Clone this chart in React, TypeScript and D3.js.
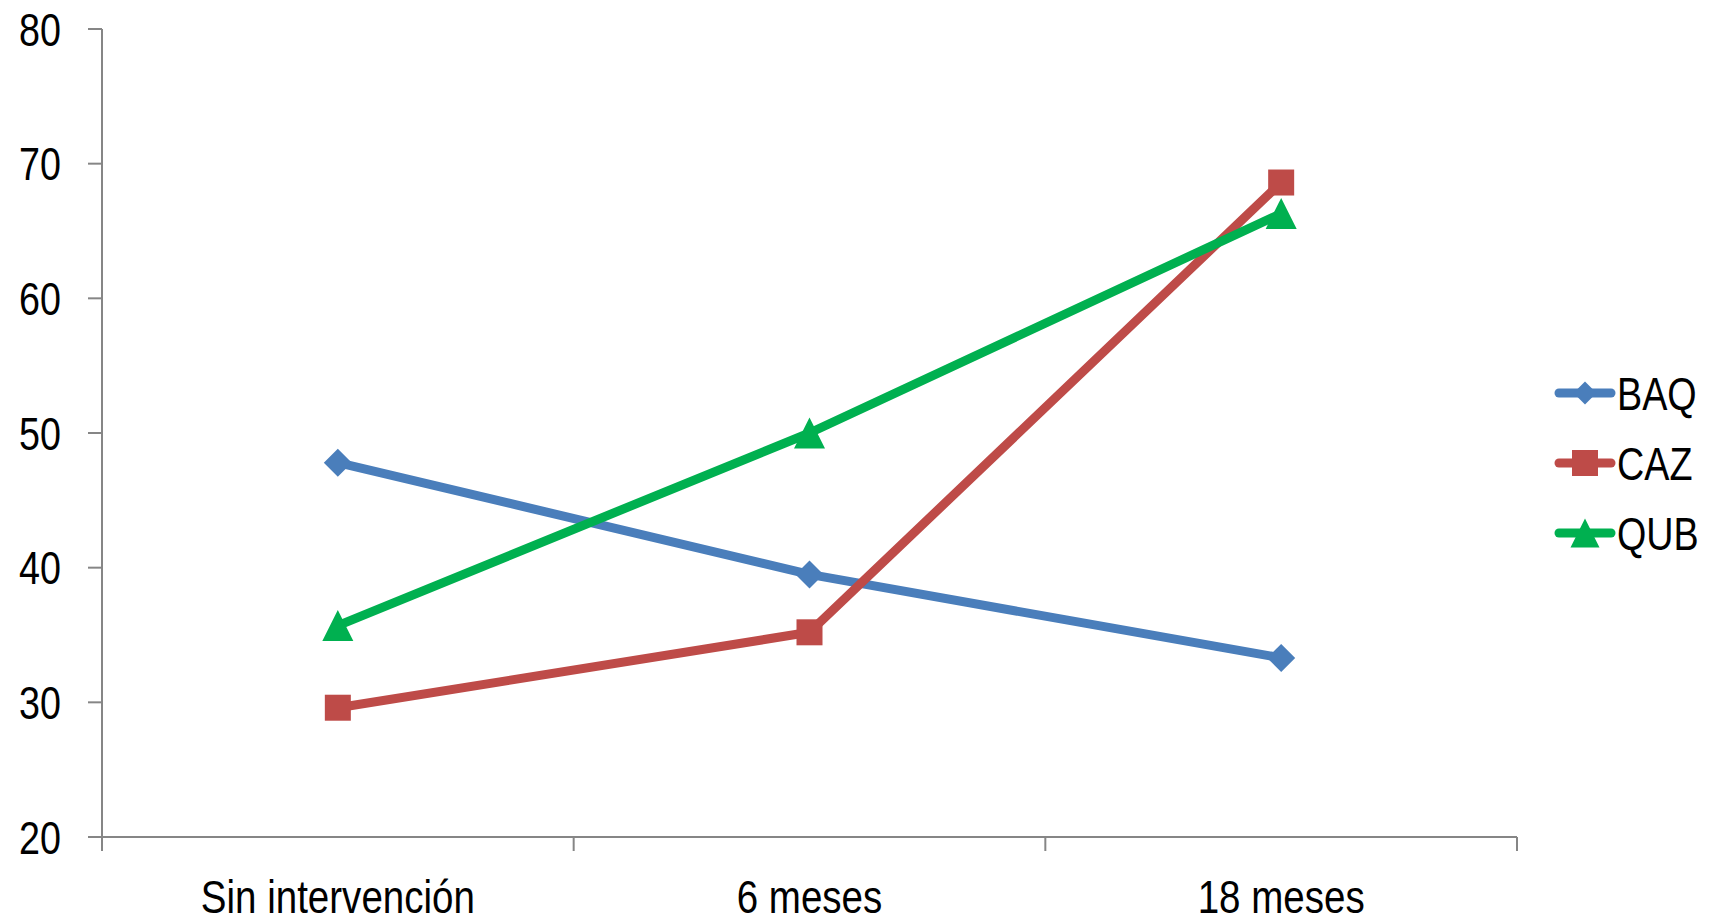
import React from "react";
import * as d3 from "d3";

const categories = ["Sin intervención", "6 meses", "18 meses"];
const seriesNames = ["BAQ", "CAZ", "QUB"];
const baqValues = [47.8, 39.5, 33.3];
const cazValues = [29.6, 35.2, 68.6];
const qubValues = [35.7, 50.0, 66.3];
const yTicks = [20, 30, 40, 50, 60, 70, 80];

const W = 1711;
const H = 919;
const left = 102;
const right = 1517;
const top = 29;
const bottom = 837;
const FONT = "'Liberation Sans', Arial, sans-serif";
const AXIS = "#868686";
const SQ = 0.82;

const colors = ["#4A7EBB", "#BE4B48", "#00B050"];
const shapes = ["diamond", "square", "triangle"];

function Marker({ shape, x, y, s, color }: { shape: string; x: number; y: number; s: number; color: string }) {
  if (shape === "diamond") {
    const h = s / 2;
    return <path d={`M${x},${y - h}L${x + h},${y}L${x},${y + h}L${x - h},${y}Z`} fill={color} />;
  }
  if (shape === "square") {
    return <rect x={x - s / 2} y={y - s / 2} width={s} height={s} fill={color} />;
  }
  const h = s / 2;
  return <path d={`M${x},${y - h}L${x + h},${y + h}L${x - h},${y + h}Z`} fill={color} />;
}

function NText({ x, y, anchor, size, children }: { x: number; y: number; anchor: string; size: number; children: React.ReactNode }) {
  return (
    <g transform={`translate(${x},${y}) scale(${SQ},1)`}>
      <text x={0} y={0} textAnchor={anchor as any} fontSize={size} fill="#000">
        {children}
      </text>
    </g>
  );
}

export default function App() {
  const x = d3.scaleBand<string>().domain(categories).range([left, right]);
  const y = d3.scaleLinear().domain([20, 80]).range([bottom, top]);
  const data = [baqValues, cazValues, qubValues];
  const cx = (i: number) => (x(categories[i]) as number) + x.bandwidth() / 2;
  const line = d3
    .line<number>()
    .x((_, i) => cx(i))
    .y((d) => y(d));
  const xTickPos = [...categories.map((c) => x(c) as number), right];
  const markerSizes = [28, 26, 31];
  const legendSizes = [23, 26, 29];
  const legendY = [393, 463, 533];

  return (
    <svg width={W} height={H} style={{ position: "absolute", left: 0, top: 0, background: "#fff" }} fontFamily={FONT}>
      <line x1={left} x2={left} y1={top} y2={bottom} stroke={AXIS} strokeWidth={2} />
      <line x1={left - 14} x2={right} y1={bottom} y2={bottom} stroke={AXIS} strokeWidth={2} />
      {yTicks.map((t) => (
        <g key={t}>
          <line x1={left - 14} x2={left} y1={y(t)} y2={y(t)} stroke={AXIS} strokeWidth={2} />
          <NText x={61} y={y(t) + 16.5} anchor="end" size={46}>
            {t}
          </NText>
        </g>
      ))}
      {xTickPos.map((p, i) => (
        <line key={i} x1={p} x2={p} y1={bottom} y2={bottom + 14} stroke={AXIS} strokeWidth={2} />
      ))}
      {categories.map((c, i) => (
        <NText key={c} x={cx(i)} y={913} anchor="middle" size={47}>
          {c}
        </NText>
      ))}
      {data.map((vals, si) => (
        <g key={si}>
          <path d={line(vals) || ""} fill="none" stroke={colors[si]} strokeWidth={9} strokeLinejoin="round" />
          {vals.map((v, i) => (
            <Marker key={i} shape={shapes[si]} x={cx(i)} y={y(v)} s={markerSizes[si]} color={colors[si]} />
          ))}
        </g>
      ))}
      {seriesNames.map((n, i) => (
        <g key={n}>
          <line x1={1559} x2={1611} y1={legendY[i]} y2={legendY[i]} stroke={colors[i]} strokeWidth={9} strokeLinecap="round" />
          <Marker shape={shapes[i]} x={1585} y={legendY[i]} s={legendSizes[i]} color={colors[i]} />
          <NText x={1617} y={legendY[i] + 16.5} anchor="start" size={46}>
            {n}
          </NText>
        </g>
      ))}
    </svg>
  );
}
